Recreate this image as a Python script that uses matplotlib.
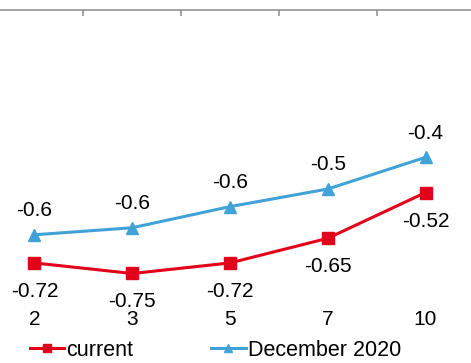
import matplotlib.pyplot as plt

plt.rcParams['font.family'] = ['Liberation Sans', 'DejaVu Sans']

# yield curve points by maturity (years)
maturities = ['2', '3', '5', '7', '10']
current = [-0.72, -0.75, -0.72, -0.65, -0.52]
december_2020 = [-0.64, -0.62, -0.56, -0.51, -0.42]

red = '#E2001A'
blue = '#41A2D8'

fig = plt.figure(figsize=(4.71, 3.63), dpi=100)
ax = fig.add_axes([-14.4 / 471, 0.1496, 488.8 / 471, 0.8242])

xs = range(len(maturities))
ax.plot(xs, current, color=red, lw=2.2, marker='s', ms=8.5, label='current')
ax.plot(xs, december_2020, color=blue, lw=2.2, marker='^', ms=8.5,
        label='December 2020')

# data labels: current below the points, December 2020 above
for x, v in zip(xs, current):
    ax.annotate('%.2f' % v, (x, v), xytext=(0, -20.5), textcoords='offset points',
                ha='center', va='center', fontsize=15)
for x, v in zip(xs, december_2020):
    ax.annotate('%.1f' % v, (x, v), xytext=(0, 17.5), textcoords='offset points',
                ha='center', va='center', fontsize=15)

ax.set_xlim(-0.5, len(maturities) - 0.5)
ax.set_ylim(-0.85, 0)
ax.set_yticks([])

for side in ['left', 'right', 'bottom']:
    ax.spines[side].set_visible(False)
ax.spines['top'].set_color('#8c8c8c')
ax.spines['top'].set_linewidth(1.1)

ax.set_xticks(list(xs))
ax.set_xticklabels(maturities)
ax.set_xticks([i + 0.5 for i in range(len(maturities) - 1)], minor=True)
ax.tick_params(axis='x', which='major', bottom=True, top=False, length=0,
               labelsize=15, pad=1)
ax.tick_params(axis='x', which='minor', bottom=False, top=True, direction='in',
               length=4.5, width=1.1, color='#8c8c8c')

fig.legend(loc='center left', bbox_to_anchor=(30 / 471, 1 - 350 / 363),
           ncol=2, frameon=False, fontsize=15.5, handlelength=1.6,
           handletextpad=0.1, columnspacing=3.6, markerscale=0.75,
           borderpad=0, borderaxespad=0)

fig.savefig('out.png', dpi=100)
